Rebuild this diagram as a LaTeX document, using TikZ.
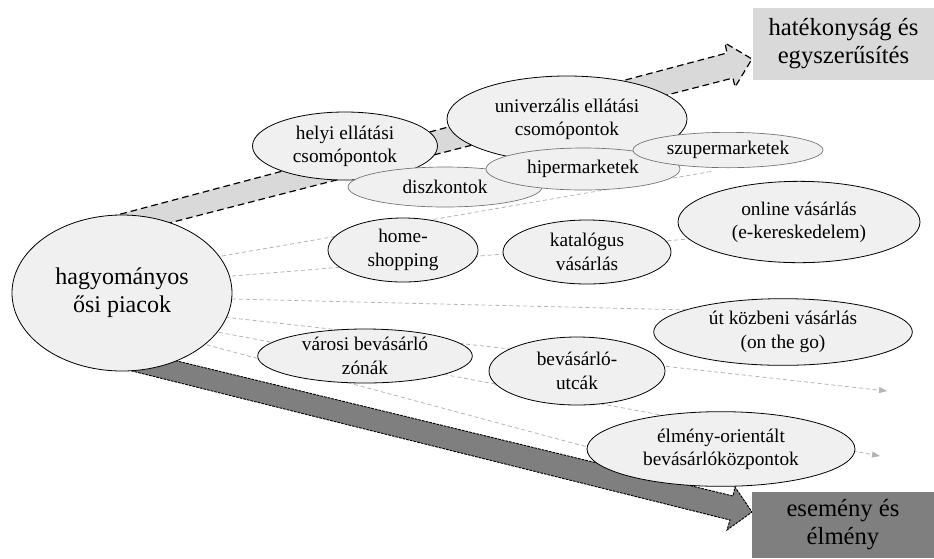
\documentclass[tikz,border=0pt]{standalone}
\usepackage{fontspec}
\setmainfont{Liberation Serif}
\usetikzlibrary{shapes.geometric,arrows.meta}
\definecolor{ellfill}{HTML}{F0F0F0}
\definecolor{lightband}{HTML}{D9D9D9}
\definecolor{darkband}{HTML}{7F7F7F}
\definecolor{guide}{HTML}{B4B4B4}
\definecolor{subedge}{HTML}{707070}
\begin{document}
\begin{tikzpicture}[x=0.75pt,y=-0.75pt,
  bubble/.style={ellipse, draw=black, line width=0.6pt, fill=ellfill,
    inner xsep=0pt, inner ysep=-8pt, align=center,
    font=\fontsize{14.5}{17.5}\selectfont},
  subbubble/.style={bubble, draw=subedge, line width=0.5pt},
  bigbubble/.style={bubble, font=\fontsize{18}{21}\selectfont},
  guideline/.style={draw=guide, line width=0.6pt, dash pattern=on 3pt off 2.2pt},
  guidearrow/.style={guideline, -{Triangle[length=6pt,width=4.5pt,fill=guide]}},
  lightarrow/.style={fill=lightband, draw=black, line width=0.9pt, dash pattern=on 5pt off 3pt},
  darkarrow/.style={fill=darkband, draw=black, line width=0.7pt, dash pattern=on 2pt off 0.8pt},
  goalbox/.style={rectangle, inner sep=0pt, align=center,
    font=\fontsize{18.5}{21}\selectfont, minimum width=136pt}
]
\useasboundingbox (0,0) rectangle (934,558);

% big trend arrows
\draw[lightarrow] (110,216.9) -- (727,53) -- (725,43) -- (752,59) -- (735,87) -- (733,78) -- (110,238.2) -- cycle;
\draw[darkarrow] (110,344.7) -- (733,496) -- (735,487) -- (752,512) -- (727,530) -- (730,520) -- (110,365.5) -- cycle;

% guide line coordinates
\coordinate (a0) at (215,257.2);
\coordinate (a1) at (712,171.3);
\coordinate (b0) at (225,276.6);
\coordinate (b1) at (695,238.5);
\coordinate (c0) at (225,298.8);
\coordinate (c1) at (690,310);
\coordinate (d0) at (225,317.2);
\coordinate (d1) at (887,391);
\coordinate (e0) at (212,331);
\coordinate (e1) at (880,456);
\coordinate (f0) at (200,343);
\coordinate (f1) at (595,449);

\draw[guideline] (a0) -- (a1);
\draw[guideline] (b0) -- (b1);
\draw[guideline] (c0) -- (c1);
\draw[guidearrow] (d0) -- (d1);
\draw[guidearrow] (e0) -- (e1);
\draw[guideline] (f0) -- (f1);

% ellipses
\node[bigbubble, minimum width=165pt, minimum height=117pt] (hag) at (122,293) {hagyományos\\ősi piacok};
\node[bubble, minimum width=138.75pt, minimum height=51pt] (helyi) at (345,146) {helyi ellátási\\csomópontok};
\node[bubble, minimum width=180pt, minimum height=64.5pt] (univ) at (567,119) {univerzális ellátási\\csomópontok};
\node[subbubble, minimum width=145.5pt, minimum height=30pt] (diszk) at (445,187) {diszkontok};
\node[subbubble, minimum width=145.5pt, minimum height=31.5pt] (hiper) at (583,169) {hipermarketek};
\node[subbubble, minimum width=142.5pt, minimum height=26.5pt] (szuper) at (728,150) {szupermarketek};
\node[bubble, minimum width=112.5pt, minimum height=48pt] (home) at (403,250) {home-\\shopping};
\node[bubble, minimum width=126pt, minimum height=48pt] (katal) at (587,252) {katalógus\\vásárlás};
\node[bubble, minimum width=181.5pt, minimum height=61pt] (online) at (799,222) {online vásárlás\\(e-kereskedelem)};
\node[bubble, minimum width=194pt, minimum height=50pt] (utkozben) at (783,332) {út közbeni vásárlás\\(on the go)};
\node[bubble, minimum width=161pt, minimum height=40.5pt] (varosi) at (365,356) {városi bevásárló\\zónák};
\node[bubble, minimum width=132pt, minimum height=51pt] (utcak) at (577,371) {bevásárló-\\utcák};
\node[bubble, minimum width=201pt, minimum height=56pt] (elmeny) at (721,449) {élmény-orientált\\bevásárlóközpontok};

% goal boxes
\node[goalbox, fill=lightband, minimum height=54pt] (hatek) at (843.5,44) {hatékonyság és\\egyszerűsítés};
\node[goalbox, fill=darkband, minimum height=49.5pt] (esemeny) at (843,525) {esemény és\\élmény};
\end{tikzpicture}
\end{document}
